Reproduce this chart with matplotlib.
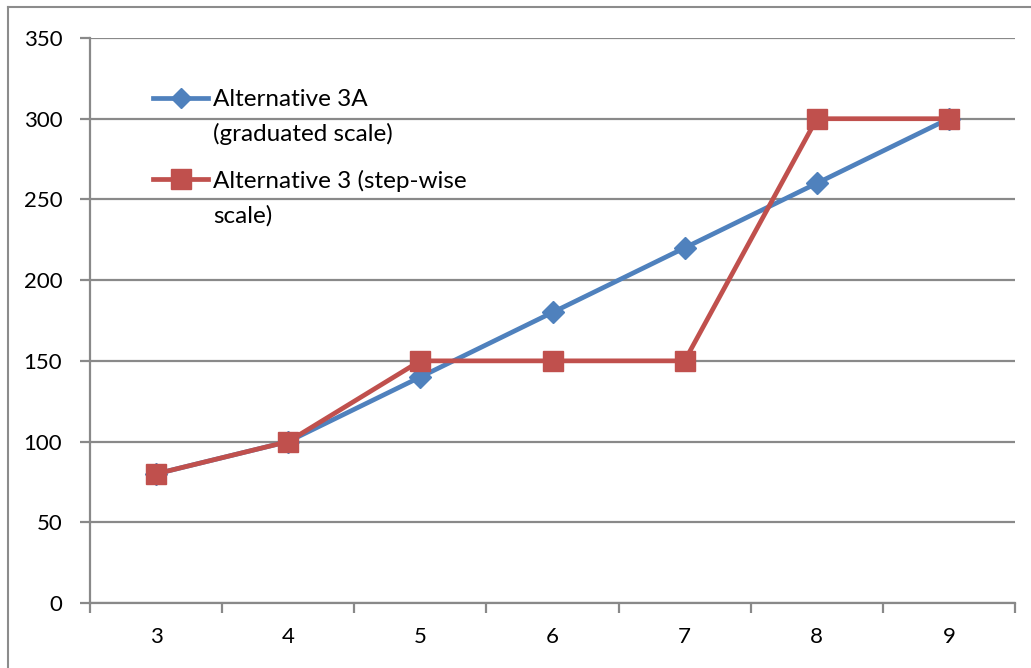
import matplotlib
matplotlib.use("Agg")
import matplotlib.pyplot as plt
from matplotlib.lines import Line2D

# 값
categories = ["3", "4", "5", "6", "7", "8", "9"]
alt_3a = [80, 100, 140, 180, 220, 260, 300]
alt_3 = [80, 100, 150, 150, 150, 300, 300]
label_3a = ["Alternative 3A", "(graduated scale)"]
label_3 = ["Alternative 3 (step-wise", "scale)"]

plt.rcParams["font.family"] = ["Lato", "DejaVu Sans"]

W, H = 1031, 668
fig = plt.figure(figsize=(W / 100, H / 100), dpi=100)
ax = fig.add_axes([90 / W, (H - 603) / H, (1015 - 90) / W, (603 - 38) / H])

grid_c = "#898989"
blue = "#4F81BD"
red = "#C0504D"

x = list(range(len(categories)))
ax.plot(x, alt_3a, color=blue, lw=3.4, marker="D", ms=11, mec=blue, zorder=3)
ax.plot(x, alt_3, color=red, lw=3.4, marker="s", ms=15, mec=red, zorder=4)

ax.set_xlim(-0.5, len(categories) - 0.5)
ax.set_ylim(0, 350)
ax.set_yticks(range(0, 351, 50))
ax.set_xticks([i - 0.5 for i in range(len(categories) + 1)], minor=False)
ax.set_xticklabels([""] * (len(categories) + 1))
ax.set_xticks(x, minor=True)
ax.set_xticklabels(categories, minor=True)

ax.yaxis.grid(True, color=grid_c, lw=1.6)
ax.set_axisbelow(True)
for s in ["top", "right"]:
    ax.spines[s].set_visible(False)
for s in ["left", "bottom"]:
    ax.spines[s].set_color(grid_c)
    ax.spines[s].set_linewidth(1.6)

ax.tick_params(axis="y", which="major", direction="out", length=7, width=1.6, color=grid_c,
               labelsize=16, pad=13)
ax.tick_params(axis="x", which="major", direction="out", length=7, width=1.6, color=grid_c)
ax.tick_params(axis="x", which="minor", length=0, labelsize=16, pad=17)

# 범례 (직접 그림: 핸들은 첫 줄에 맞춤)
def px(xp, yp):
    return xp / W, 1 - yp / H

legend_rows = [(label_3a, blue, "D", 10, 98, 106), (label_3, red, "s", 14, 179, 188)]
for lines, col, mk, ms, y_mid, y_base in legend_rows:
    x0, y0 = px(153, y_mid)
    x1, _ = px(208, y_mid)
    fig.add_artist(Line2D([x0, x1], [y0, y0], color=col, lw=3.4))
    fig.add_artist(Line2D([(x0 + x1) / 2], [y0], color=col, marker=mk, ms=ms, mec=col))
    for k, s in enumerate(lines):
        tx, ty = px(213, y_base + 35 * k)
        fig.text(tx, ty, s, fontsize=17.5, va="baseline", ha="left", color="black")

# 바깥 테두리
fig.add_artist(Line2D([8 / W, 8 / W], [0, 1 - 7 / H], color="#8c8c8c", lw=1.5))
fig.add_artist(Line2D([8 / W, 1], [1 - 7 / H, 1 - 7 / H], color="#8c8c8c", lw=1.5))

fig.savefig("out.png", dpi=100)
